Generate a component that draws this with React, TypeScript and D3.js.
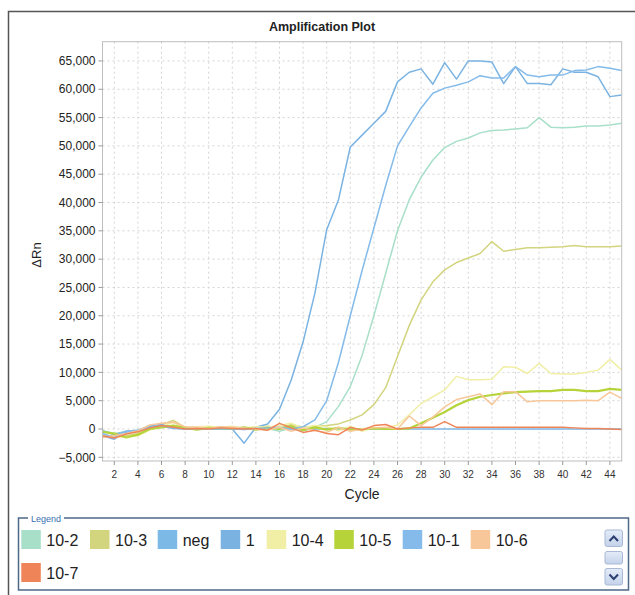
import React from 'react';
import * as d3 from 'd3';

// cycle numbers 1..45
const cycles = [
  1, 2, 3, 4, 5, 6, 7, 8, 9, 10, 11, 12, 13, 14, 15, 16, 17, 18, 19, 20, 21, 22, 23,
  24, 25, 26, 27, 28, 29, 30, 31, 32, 33, 34, 35, 36, 37, 38, 39, 40, 41, 42, 43, 44, 45,
];

// ΔRn values per sample
const s10_2 = [
  -300, -800, -500, -200, 200, 400, 300, 100, 200, 300, 100, 200, 0, 300, 100, -400, 200, -300, 300, 1300,
  4000, 7500, 13000, 20000, 27500, 35000, 40500, 44500, 47500, 49700, 50800, 51400, 52300, 52700, 52800,
  53000, 53200, 55000, 53300, 53200, 53300, 53500, 53500, 53700, 54000,
];
const s10_3 = [
  -1500, -1000, -1200, -800, 300, 800, 1500, 300, 200, 400, 300, 200, 100, 300, 500, 200, 800, 300, 500, 600,
  900, 1600, 2500, 4300, 7300, 12800, 18300, 22800, 26000, 28100, 29400, 30200, 31000, 33100, 31400,
  31700, 32000, 32000, 32100, 32200, 32400, 32200, 32200, 32200, 32300,
];
const sNeg = [
  -300, -1000, -400, -200, 500, 500, 100, 0, 0, 0, 0, 0, -100, 0, 200, 100, 0, -100, 0, 100,
  0, 0, -100, 0, 0, 0, 0, 0, 0, 0, 0, 0, 0, 0, 0, 0, 0, 0, 0, 0, 0, 0, 0, 0, 0,
];
const s1 = [
  -1200, -1800, -600, -200, 500, 800, 400, 0, 100, 200, 0, 0, -2500, 300, 900, 3500, 8700, 15400, 24000, 35200,
  40500, 49800, 51900, 54000, 56100, 61300, 63000, 63600, 60900, 64700, 61800, 65000, 65000, 64800, 61000,
  64000, 61000, 61000, 60800, 63600, 63000, 63000, 62200, 58700, 59000,
];
const s10_4 = [
  -1000, -1500, -1400, -1200, -200, 500, 1200, 200, 400, 500, 300, 500, 200, 400, 300, 600, 1000, 200, 600, 400,
  -300, 500, -400, 300, 200, 700, 2500, 4500, 5700, 6900, 9300, 8700, 8700, 8800, 11000,
  10900, 9800, 11600, 9800, 9700, 9700, 10000, 10400, 12300, 10400,
];
const s10_5 = [
  -500, -800, -1500, -1000, 0, 300, 600, 200, -100, 200, 100, 0, 300, -100, 200, 0, 500, -200, 300, -100,
  200, -100, 0, 100, 0, 0, 100, 1000, 2000, 3000, 4200, 5100, 5700, 6000, 6300,
  6500, 6600, 6700, 6700, 6900, 6900, 6700, 6700, 7100, 6900,
];
const s10_1 = [
  -800, -1500, -400, -300, 300, 600, 200, 0, 100, 0, 100, 0, 0, 100, 200, 300, 0, 400, 1600, 5000,
  11800, 20000, 28000, 35500, 43000, 50000, 53400, 56700, 59300, 60200, 60700, 61300, 62400, 62000, 62000,
  64000, 62500, 62200, 62500, 62500, 63300, 63400, 64000, 63700, 63300,
];
const s10_6 = [
  -1500, -1200, -800, -300, 700, 1000, 1200, 400, 300, 100, 400, 300, 200, 0, -200, 300, -400, 200, -300, -600,
  300, -400, 0, 200, 300, 0, 2300, 600, 2100, 3900, 5200, 5700, 6200, 4300, 6600,
  6600, 4800, 5000, 5000, 5000, 5000, 5100, 5000, 6500, 5400,
];
const s10_7 = [
  -1200, -1600, -900, -500, 200, 600, 300, 0, 100, 0, 200, 100, 0, 100, -200, 1000, 200, -600, -200, -800,
  -1000, 300, -200, 600, 800, 0, 200, 300, 300, 1300, 300, 300, 300, 300, 300,
  300, 300, 300, 300, 300, 200, 100, 100, 0, -100,
];

const sampleNames = ['10-2', '10-3', 'neg', '1', '10-4', '10-5', '10-1', '10-6', '10-7'];
const sampleColors = ['#a8dfc9', '#d2d47e', '#7db9e6', '#7ab3e2', '#f1efa6', '#b6d43a', '#84bbea', '#f7c79a', '#ef8458'];
const sampleValues = [s10_2, s10_3, sNeg, s1, s10_4, s10_5, s10_1, s10_6, s10_7];

const yTicks = [-5000, 0, 5000, 10000, 15000, 20000, 25000, 30000, 35000, 40000, 45000, 50000, 55000, 60000, 65000];
const xTicks = [2, 4, 6, 8, 10, 12, 14, 16, 18, 20, 22, 24, 26, 28, 30, 32, 34, 36, 38, 40, 42, 44];

const W = 635;
const H = 595;
const plot = { left: 102.5, top: 41.7, right: 621.7, bottom: 461 };
const FONT = '"Liberation Sans", Arial, sans-serif';

const App = () => {
  const x = d3.scaleLinear().domain([1, 45]).range([plot.left, plot.right]);
  const y = d3.scaleLinear().domain([-5650, 68400]).range([plot.bottom, plot.top]);

  const line = d3.line<number>()
    .x((d, i) => x(cycles[i]))
    .y(d => y(d));

  // legend layout (one row of 8, then wrap)
  const legendX = [21.3, 90, 157.7, 220.7, 266.7, 334.3, 402.7, 470.7, 21.3];
  const legendY = [530, 530, 530, 530, 530, 530, 530, 530, 563];

  return (
    <svg width={W} height={H} style={{ position: 'absolute', left: 0, top: 0, fontFamily: FONT }}>
      <rect x={0} y={0} width={W} height={H} fill="#fff" />
      {/* outer frame */}
      <path d={`M8.5,${H} V11.5 H${W}`} fill="none" stroke="#555" strokeWidth={1.5} />

      <text x={322} y={31} textAnchor="middle" fontSize={12.5} fontWeight={600} fill="#222">Amplification Plot</text>

      {/* grid */}
      <g stroke="#d4d4d4" strokeDasharray="2,3" strokeWidth={1}>
        {xTicks.map(t => (
          <line key={'gx' + t} x1={x(t)} x2={x(t)} y1={plot.top} y2={plot.bottom} />
        ))}
        {yTicks.map(t => (
          <line key={'gy' + t} x1={plot.left} x2={plot.right} y1={y(t)} y2={y(t)} />
        ))}
      </g>

      {/* curves */}
      <g fill="none" strokeLinejoin="round">
        {sampleValues.map((vals, i) => (
          <path
            key={sampleNames[i]}
            d={line(vals) || ''}
            stroke={sampleColors[i]}
            strokeWidth={sampleNames[i] === '10-5' ? 2.2 : 1.5}
          />
        ))}
      </g>

      <rect x={plot.left} y={plot.top} width={plot.right - plot.left} height={plot.bottom - plot.top}
        fill="none" stroke="#bdbdbd" strokeWidth={1} />

      {/* y axis */}
      <g fontSize={12} fill="#222" textAnchor="end">
        {yTicks.map(t => (
          <g key={'yt' + t}>
            <line x1={plot.left - 4} x2={plot.left} y1={y(t)} y2={y(t)} stroke="#999" />
            <text x={plot.left - 7} y={y(t)} dy="0.35em">{d3.format(',')(t)}</text>
          </g>
        ))}
      </g>
      <text transform="translate(41,255) rotate(-90)" textAnchor="middle" fontSize={13} fill="#222">ΔRn</text>

      {/* x axis */}
      <g fontSize={10} fill="#333" textAnchor="middle">
        {xTicks.map(t => (
          <g key={'xt' + t}>
            <line x1={x(t)} x2={x(t)} y1={plot.bottom} y2={plot.bottom + 4} stroke="#999" />
            <text x={x(t)} y={478}>{t}</text>
          </g>
        ))}
      </g>
      <text x={(plot.left + plot.right) / 2} y={499} textAnchor="middle" fontSize={14} fill="#222">Cycle</text>

      {/* legend */}
      <rect x={18.5} y={518} width={610} height={72} fill="none" stroke="#4d6987" strokeWidth={1.5} />
      <rect x={28} y={512} width={36} height={12} fill="#fff" />
      <text x={31} y={522} fontSize={9} fill="#3a6fb0">Legend</text>
      {sampleNames.map((n, i) => (
        <g key={'lg' + n}>
          <rect x={legendX[i]} y={legendY[i]} width={19.5} height={19} fill={sampleColors[i]} />
          <text x={legendX[i] + 25} y={legendY[i] + 15.5} fontSize={16} fill="#222">{n}</text>
        </g>
      ))}

      {/* scroll buttons */}
      <defs>
        <linearGradient id="btn" x1="0" x2="0" y1="0" y2="1">
          <stop offset="0" stopColor="#e4ecf8" />
          <stop offset="1" stopColor="#c4d2ea" />
        </linearGradient>
      </defs>
      <rect x={605} y={530} width={17.5} height={16.5} rx={2} fill="url(#btn)" stroke="#a9b9d6" />
      <path d="M609.5,541 L613.75,536.5 L618,541" fill="none" stroke="#2c3f72" strokeWidth={2} />
      <rect x={605} y={551.5} width={17.5} height={12.5} rx={2} fill="url(#btn)" stroke="#a9b9d6" />
      <rect x={605} y={568.5} width={17.5} height={16.5} rx={2} fill="url(#btn)" stroke="#a9b9d6" />
      <path d="M609.5,574.5 L613.75,579 L618,574.5" fill="none" stroke="#2c3f72" strokeWidth={2} />
    </svg>
  );
};

export default App;
